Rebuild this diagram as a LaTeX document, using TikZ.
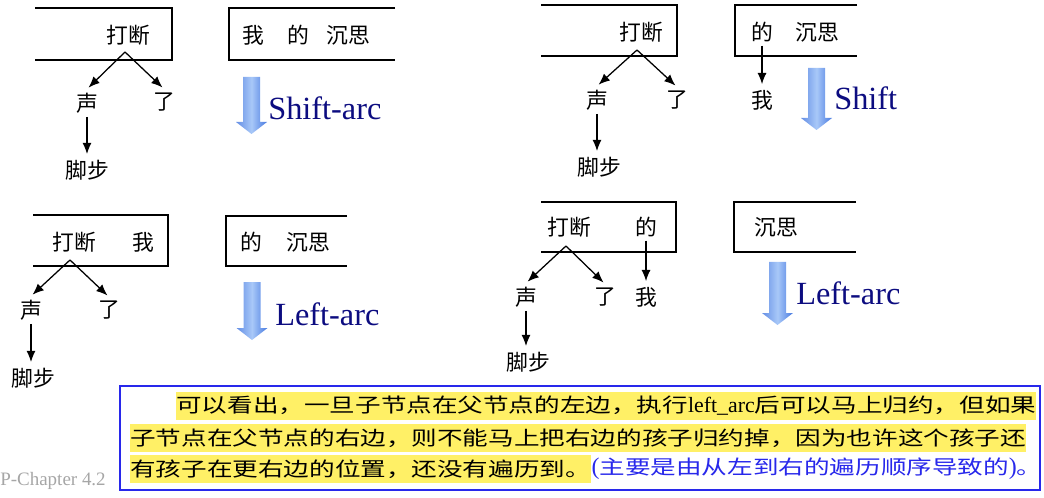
\documentclass[tikz,border=0pt]{standalone}
\usepackage{fontspec}
\setmainfont{Liberation Serif}
\newfontfamily\cjk{Noto Sans CJK SC}
\newfontfamily\cjkwide[FakeStretch=1.3]{Noto Sans CJK SC}
\usetikzlibrary{arrows.meta}
\definecolor{actionblue}{RGB}{12,12,128}
\definecolor{arrowlight}{RGB}{168,200,248}
\definecolor{arrowdark}{RGB}{72,122,224}
\definecolor{marker}{RGB}{255,240,102}
\definecolor{noteblue}{RGB}{40,40,235}
\tikzstyle{word}=[font=\cjk\fontsize{15.5}{17}\selectfont, inner sep=2.5pt]
\tikzstyle{dep}=[-{Latex[length=8pt,width=6.5pt]}, line width=0.9pt, shorten >=1.5pt]
\tikzstyle{config}=[line width=1.2pt]
\tikzstyle{action}=[anchor=west, inner sep=0pt, text=actionblue, font=\fontsize{23}{26}\selectfont]
\tikzstyle{op arrow}=[left color=arrowdark!85, right color=arrowdark, middle color=arrowlight]
\tikzstyle{marked}=[fill=marker, anchor=west, inner xsep=0pt, inner ysep=0pt, minimum height=20pt, font=\cjkwide\fontsize{14}{16}\selectfont]
\newcommand{\oparrow}[2]{\shade[op arrow] (#1) ++(-8.5,0) -- ++(17,0) -- ++(0,#2-12) -- ++(7,0) -- ++(-15.5,12) -- ++(-15.5,-12) -- ++(7,0) -- cycle;}

\begin{document}
\begin{tikzpicture}[x=0.025cm, y=-0.025cm]
  \useasboundingbox (0,0) rectangle (1044,498);

  \draw[config] (35,8) -| (172,60) -- (35,60);
  \draw[config] (395,8) -| (229,60) -- (395,60);
  \node[word] (daduan1) at (128,35) {打断};
  \node[word] (wo1) at (253,35) {我};
  \node[word] (de1) at (298,35) {的};
  \node[word] (chensi1) at (348,35) {沉思};
  \coordinate (root1) at (125,52);
  \node[word] (sheng1) at (87,103) {声};
  \node[word] (le1) at (164,102) {了};
  \node[word] (jiaobu1) at (87,170) {脚步};
  \draw[dep] (root1) -- (sheng1.north);
  \draw[dep] (root1) -- (le1.north);
  \draw[dep] (sheng1) -- (sheng1 |- jiaobu1.north);
  \oparrow{251.5,77}{57}
  \node[action] (op1) at (268,108) {Shift-arc};

  \draw[config] (541,5) -| (677,56) -- (541,56);
  \draw[config] (857,5) -| (735,56) -- (857,56);
  \node[word] (daduan2) at (641,32) {打断};
  \node[word] (de2) at (762,32) {的};
  \node[word] (chensi2) at (817,32) {沉思};
  \coordinate (root2) at (637,50);
  \node[word] (sheng2) at (597,100) {声};
  \node[word] (le2) at (677,100) {了};
  \node[word] (wo2) at (762,100) {我};
  \node[word] (jiaobu2) at (599,167) {脚步};
  \draw[dep] (root2) -- (sheng2.north);
  \draw[dep] (root2) -- (le2.north);
  \draw[dep] (sheng2) -- (sheng2 |- jiaobu2.north);
  \draw[dep] (de2) -- (wo2);
  \oparrow{816.5,68}{62}
  \node[action] (op2) at (834,98) {Shift};

  \draw[config] (33,215) -| (168,266) -- (33,266);
  \draw[config] (347,216) -| (226,266) -- (347,266);
  \node[word] (daduan3) at (74,242) {打断};
  \node[word] (wo3) at (143,242) {我};
  \node[word] (de3) at (251,242) {的};
  \node[word] (chensi3) at (308,242) {沉思};
  \coordinate (root3) at (70,260);
  \node[word] (sheng3) at (31,310) {声};
  \node[word] (le3) at (109,310) {了};
  \node[word] (jiaobu3) at (33,378) {脚步};
  \draw[dep] (root3) -- (sheng3.north);
  \draw[dep] (root3) -- (le3.north);
  \draw[dep] (sheng3) -- (sheng3 |- jiaobu3.north);
  \oparrow{252,282}{58}
  \node[action] (op3) at (275,314) {Left-arc};

  \draw[config] (541,202) -| (676,252) -- (541,252);
  \draw[config] (856,202) -| (734,252) -- (856,252);
  \node[word] (daduan4) at (569,227) {打断};
  \node[word] (de4) at (646,227) {的};
  \node[word] (chensi4) at (776,227) {沉思};
  \coordinate (root4) at (566,246);
  \node[word] (sheng4) at (526,297) {声};
  \node[word] (le4) at (605,297) {了};
  \node[word] (wo4) at (646,297) {我};
  \node[word] (jiaobu4) at (528,362) {脚步};
  \draw[dep] (root4) -- (sheng4.north);
  \draw[dep] (root4) -- (le4.north);
  \draw[dep] (sheng4) -- (sheng4 |- jiaobu4.north);
  \draw[dep] (de4) -- (wo4);
  \oparrow{777.5,262}{63}
  \node[action] (op4) at (796,293) {Left-arc};

  \node[anchor=west, inner sep=0pt, text=black!35, font=\fontsize{13.5}{14}\selectfont] (chapter) at (0,481) {P-Chapter 4.2};
  \draw[draw=noteblue, line width=1pt] (120,386) rectangle (1040,490);
  \node[marked] (line1) at (176,406) {可以看出，一旦子节点在父节点的左边，执行{\rmfamily\fontsize{15.5}{16}\selectfont left\_arc}后可以马上归约，但如果};
  \node[marked] (line2) at (130,438) {子节点在父节点的右边，则不能马上把右边的孩子归约掉，因为也许这个孩子还};
  \node[marked] (line3) at (130,469) {有孩子在更右边的位置，还没有遍历到。};
  \node[anchor=west, inner xsep=0pt, inner ysep=0pt, text=noteblue, font=\cjkwide\fontsize{14}{16}\selectfont] (aside) at (line3.east) {{\rmfamily\fontsize{17}{18}\selectfont(}主要是由从左到右的遍历顺序导致的{\rmfamily\fontsize{17}{18}\selectfont)}。};
\end{tikzpicture}
\end{document}
